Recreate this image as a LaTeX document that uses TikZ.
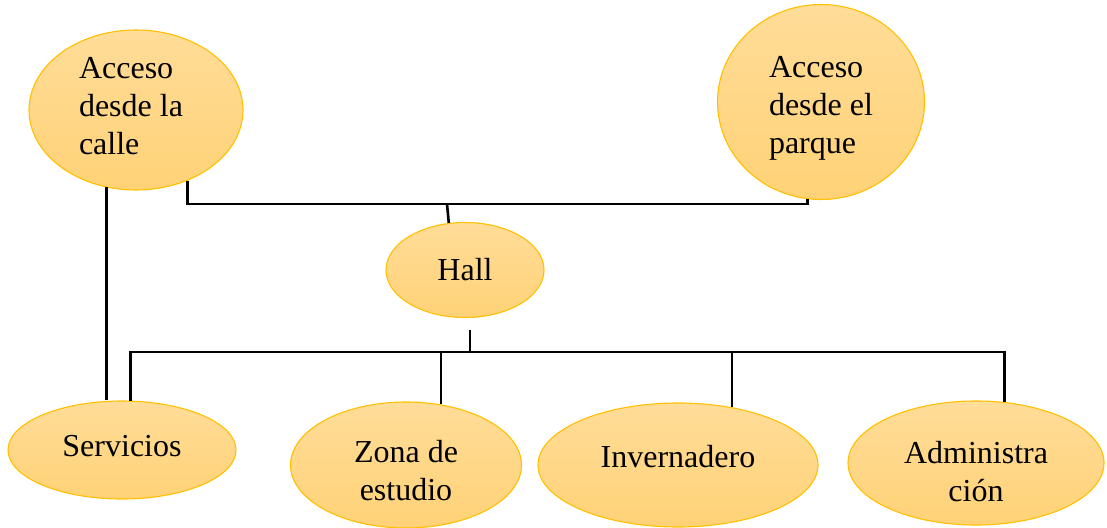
\documentclass[tikz,border=0pt]{standalone}
\usepackage{fontspec}
\setmainfont{Liberation Serif}
\usetikzlibrary{shapes.geometric,positioning,calc}
\definecolor{cT}{HTML}{FFDC98}
\definecolor{cU}{HTML}{FFD277}
\definecolor{cE}{HTML}{FFC000}

\begin{document}
\begin{tikzpicture}[x=1pt,y=-1pt,
  area/.style={ellipse,draw=cE,line width=1.1pt,top color=cT,bottom color=cU,inner sep=0pt},
  txt/.style={font=\fontsize{32}{38}\selectfont,inner sep=0pt},
  wire/.style={line width=2.6pt}]
  \useasboundingbox (0,0) rectangle (1107,527);
  % accesos
  \node[area,minimum width=214,minimum height=160,
    label={[txt,align=left,xshift=-5,yshift=4]center:{Acceso\\desde la\\calle}}] (calle) at (136,110){};
  \node[area,minimum width=207,minimum height=195,
    label={[txt,align=left,yshift=-6]center:{Acceso\\desde el\\parque}}] (parque) at (821,102){};
  \node[area,minimum width=158,minimum height=95,label={[txt]center:Hall}] (hall) at (465,270){};
  % zonas
  \node[area,minimum width=228,minimum height=98,label={[txt,yshift=4]center:Servicios}] (serv) at (122,450){};
  \node[area,minimum width=231,minimum height=126,
    label={[txt,align=center,yshift=-6]center:{Zona de\\estudio}}] (zona) at (406,465){};
  \node[area,minimum width=280,minimum height=124,label={[txt,yshift=8]center:Invernadero}] (inv) at (678,465){};
  \node[area,minimum width=256,minimum height=124,
    label={[txt,align=center,yshift=-9]center:{Administra\\ción}}] (adm) at (976,463){};
  % conexiones
  \coordinate (jt) at (447,204);
  \coordinate (hb) at (470,330);
  \coordinate (jb) at (470,352);
  \draw[wire] (calle.249) -- (calle.249 |- serv.north);
  \draw[wire] (calle.306) |- (jt) -| (parque.262);
  \draw[wire] (jt) -- (hall.109);
  \draw[wire] (hb) -- (jb);
  \draw[wire] (serv.80) |- (jb) -| (adm.65);
  \foreach \n/\a in {zona/60,inv/47}{\draw[wire] (\n.\a) -- (\n.\a |- jb);}
\end{tikzpicture}
\end{document}
